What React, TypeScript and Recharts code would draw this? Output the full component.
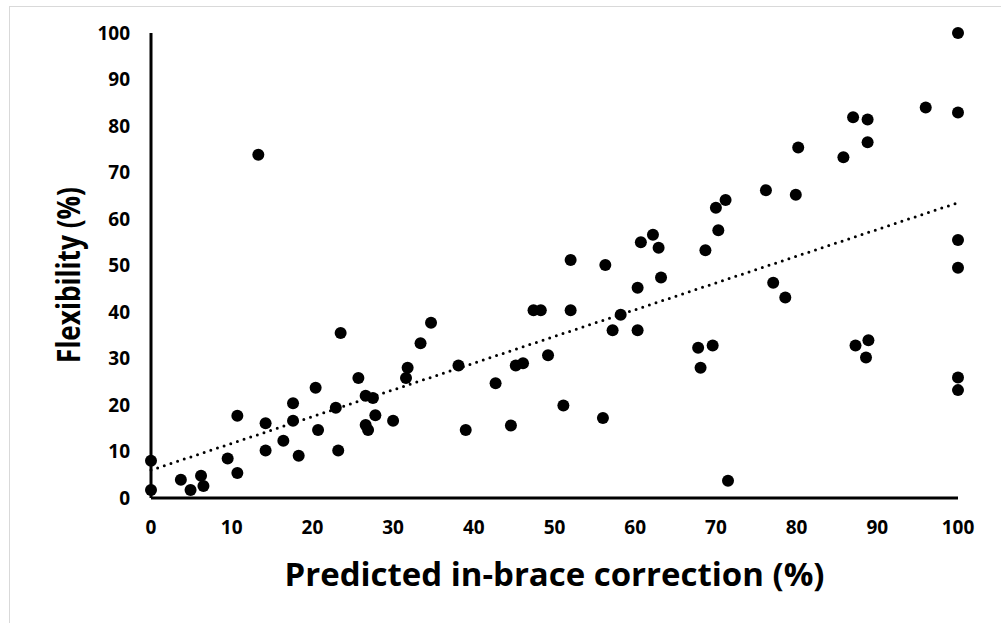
import React from 'react'
import {
  ScatterChart,
  Scatter,
  XAxis,
  YAxis,
  ReferenceLine,
  Label,
} from 'recharts'

// predicted in-brace correction (%)
const correction = [
  0, 0, 3.7, 4.9, 6.2, 6.5, 9.5, 10.7, 10.7, 13.3,
  14.2, 14.2, 16.4, 17.6, 17.6, 18.3, 20.4, 20.7, 23.2, 22.9,
  23.5, 25.7, 26.6, 27.5, 26.6, 26.9, 27.8, 30.0, 31.6, 31.8,
  33.4, 34.7, 38.1, 39.0, 42.7, 44.6, 45.2, 46.1, 47.4, 48.3,
  49.2, 51.1, 52.0, 52.0, 56.3, 56.0, 58.2, 57.2, 60.3, 60.3,
  60.7, 62.2, 62.9, 63.2, 67.8, 68.1, 68.7, 69.6, 70.0, 70.3,
  71.2, 71.5, 76.2, 77.1, 78.6, 79.9, 80.2, 85.8, 87.0, 87.3,
  88.6, 88.9, 88.8, 88.8, 96.0, 100, 100, 100, 100, 100,
  100,
]

// flexibility (%)
const flexibility = [
  8.0, 1.7, 3.9, 1.7, 4.8, 2.6, 8.5, 5.4, 17.7, 73.8,
  10.2, 16.1, 12.3, 20.4, 16.6, 9.1, 23.7, 14.6, 10.2, 19.4,
  35.5, 25.8, 22.0, 21.5, 15.7, 14.6, 17.8, 16.6, 25.8, 28.0,
  33.3, 37.7, 28.5, 14.6, 24.7, 15.6, 28.5, 29.0, 40.4, 40.4,
  30.7, 19.9, 51.2, 40.4, 50.1, 17.2, 39.4, 36.1, 36.1, 45.2,
  55.0, 56.6, 53.8, 47.4, 32.3, 28.0, 53.3, 32.8, 62.4, 57.6,
  64.1, 3.7, 66.2, 46.3, 43.1, 65.2, 75.4, 73.3, 81.9, 32.8,
  30.2, 33.9, 81.4, 76.5, 84.0, 82.9, 100, 55.5, 49.5, 25.9,
  23.2,
]

// linear trend line end points
const trendX = [0, 100]
const trendY = [6.0, 63.5]

const axisTicks = [0, 10, 20, 30, 40, 50, 60, 70, 80, 90, 100]

const points = correction.map((x, i) => ({ x, y: flexibility[i] }))
const trendSegment = trendX.map((x, i) => ({ x, y: trendY[i] }))

const FONT = '"Open Sans", "Noto Sans", sans-serif'
const tickStyle = { fontSize: 19, fontWeight: 700, fill: '#000', fontFamily: FONT }

const XTitle = ({ viewBox }: any) => {
  const cx = viewBox.x + viewBox.width / 2
  return (
    <text
      x={cx}
      y={586}
      textAnchor="middle"
      fontFamily={FONT}
      fontWeight={700}
      fontSize={33}
      fill="#000"
      textLength={540}
      lengthAdjust="spacingAndGlyphs"
    >
      Predicted in-brace correction (%)
    </text>
  )
}

const YTitle = () => (
  <text
    x={0}
    y={0}
    transform="translate(80, 275) rotate(-90)"
    textAnchor="middle"
    fontFamily={FONT}
    fontWeight={700}
    fontSize={33}
    fill="#000"
    textLength={176}
    lengthAdjust="spacingAndGlyphs"
  >
    Flexibility (%)
  </text>
)

export default function App() {
  return (
    <div style={{ position: 'absolute', left: 0, top: 0, width: 1001, height: 623, background: '#fff' }}>
      <div
        style={{
          position: 'absolute',
          left: 9,
          top: 6,
          width: 1000,
          height: 630,
          border: '1px solid #d9d9d9',
          boxSizing: 'border-box',
        }}
      />
      <ScatterChart
        width={1001}
        height={623}
        margin={{ top: 33, right: 43, left: 91, bottom: 75 }}
        style={{ position: 'absolute', left: 0, top: 0 }}
      >
        <XAxis
          type="number"
          dataKey="x"
          domain={[0, 100]}
          ticks={axisTicks}
          interval={0}
          height={50}
          tick={tickStyle}
          tickLine={false}
          tickSize={0}
          tickMargin={23}
          axisLine={{ stroke: '#000', strokeWidth: 3 }}
        >
          <Label content={<XTitle />} />
        </XAxis>
        <YAxis
          type="number"
          dataKey="y"
          domain={[0, 100]}
          ticks={axisTicks}
          interval={0}
          width={60}
          tick={tickStyle}
          tickLine={false}
          tickSize={0}
          tickMargin={21}
          axisLine={{ stroke: '#000', strokeWidth: 3 }}
        >
          <Label content={<YTitle />} />
        </YAxis>
        <ReferenceLine
          segment={trendSegment}
          stroke="#000"
          strokeWidth={3}
          strokeDasharray="0 7"
          strokeLinecap="round"
          ifOverflow="visible"
        />
        <Scatter
          data={points}
          fill="#000"
          shape={(props: any) => <circle cx={props.cx} cy={props.cy} r={6} fill="#000" />}
          isAnimationActive={false}
        />
      </ScatterChart>
    </div>
  )
}
